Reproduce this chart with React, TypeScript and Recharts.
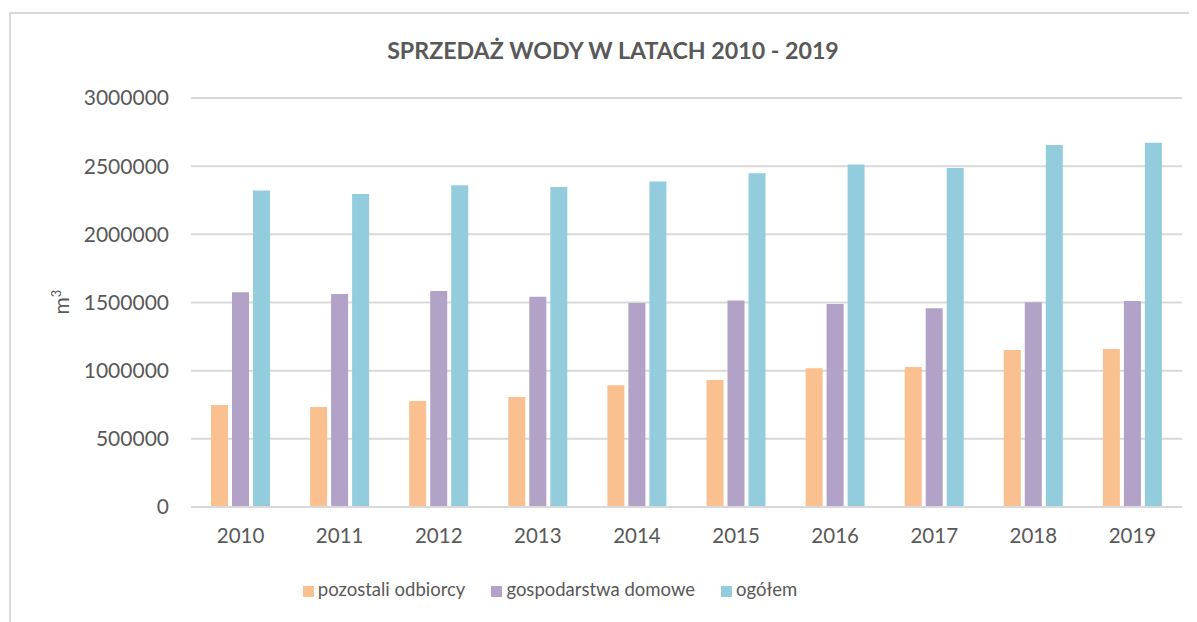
import { BarChart, Bar, XAxis, YAxis, CartesianGrid, Legend } from "recharts";

const years = ["2010", "2011", "2012", "2013", "2014", "2015", "2016", "2017", "2018", "2019"];
const pozostali = [748000, 734000, 778000, 807000, 893000, 932000, 1018000, 1027000, 1152000, 1159000];
const gospodarstwa = [1575000, 1563000, 1585000, 1543000, 1497000, 1514000, 1489000, 1458000, 1502000, 1511000];
const ogolem = [2321000, 2296000, 2360000, 2348000, 2387000, 2448000, 2512000, 2487000, 2656000, 2671000];
const yTicks = [0, 500000, 1000000, 1500000, 2000000, 2500000, 3000000];
const seriesOrder = ["pozostali", "gospodarstwa", "ogolem"];

const data = years.map((y, i) => ({
  year: y,
  pozostali: pozostali[i],
  gospodarstwa: gospodarstwa[i],
  ogolem: ogolem[i],
}));

const FONT = "Lato, 'Open Sans', sans-serif";
const TEXT = "#595959";
const GRID = "#d9d9d9";

export default function App() {
  return (
    <div style={{ position: "relative", width: 1189, height: 614, overflow: "hidden", fontFamily: FONT }}>
      {/* chart frame, cropped on the right and bottom like the source */}
      <div
        style={{
          position: "absolute", left: 1, top: 4, width: 1220, height: 640,
          border: `2px solid ${GRID}`, boxSizing: "border-box",
        }}
      />
      <div
        style={{
          position: "absolute", left: 0, width: 1210, top: 27, textAlign: "center",
          fontSize: 23.2, fontWeight: 700, color: TEXT, lineHeight: "30px",
        }}
      >
        SPRZEDAŻ WODY W LATACH 2010 - 2019
      </div>
      <div
        style={{
          position: "absolute", left: 48 - 20, top: 294 - 14, width: 40, height: 28,
          lineHeight: "28px", textAlign: "center", transform: "rotate(-90deg)",
          fontSize: 21, color: TEXT,
        }}
      >
        m<sup style={{ fontSize: 13, verticalAlign: "8px" }}>3</sup>
      </div>
      <div style={{ position: "absolute", left: 0, top: 0 }}>
        <BarChart
          width={1189}
          height={614}
          data={data}
          margin={{ top: 90, right: 15, left: 83, bottom: 53 }}
          barSize={17}
          barGap={4}
        >
          <CartesianGrid vertical={false} stroke={GRID} strokeWidth={2} />
          <XAxis
            dataKey="year"
            height={40}
            axisLine={{ stroke: GRID, strokeWidth: 2 }}
            tickLine={false}
            tickMargin={15}
            tick={{ fill: TEXT, fontSize: 20.5, fontFamily: FONT }}
          />
          <YAxis
            width={100}
            domain={[0, 3000000]}
            ticks={yTicks}
            interval={0}
            axisLine={false}
            tickLine={false}
            tickSize={0}
            tickMargin={22}
            tick={{ fill: TEXT, fontSize: 21, fontFamily: FONT }}
          />
          <Legend
            verticalAlign="bottom"
            iconType="square"
            iconSize={11}
            itemSorter={(item: any) => seriesOrder.indexOf(item.dataKey)}
            wrapperStyle={{ top: 570, left: 255, width: 600, fontSize: 18.5, fontFamily: FONT }}
            formatter={(v: string) => (
              <span style={{ color: TEXT, paddingRight: 16 }}>{v}</span>
            )}
          />
          <Bar dataKey="pozostali" name="pozostali odbiorcy" fill="#fac090" isAnimationActive={false} />
          <Bar dataKey="gospodarstwa" name="gospodarstwa domowe" fill="#b3a2c7" isAnimationActive={false} />
          <Bar dataKey="ogolem" name="ogółem" fill="#93cddd" isAnimationActive={false} />
        </BarChart>
      </div>
    </div>
  );
}
